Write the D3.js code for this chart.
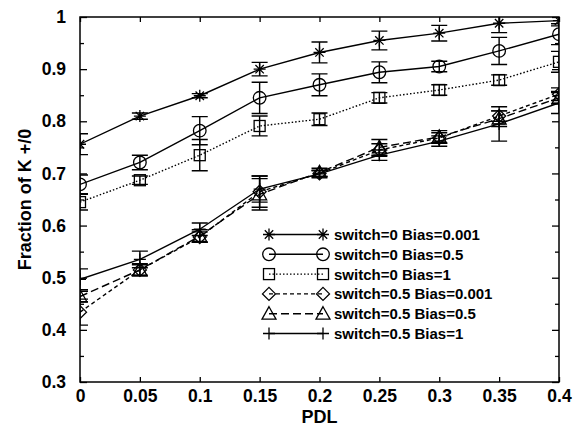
<!DOCTYPE html>
<html>
<head>
<meta charset="utf-8">
<script src="https://cdn.jsdelivr.net/npm/d3@7"></script>
<style>
  body { margin: 0; background: #fff; }
  text { font-family: "Liberation Sans", Arial, sans-serif; font-weight: bold; fill: #000; }
</style>
</head>
<body>
<svg id="chart" width="581" height="426"></svg>
<script>
const pdl = [0, 0.05, 0.1, 0.15, 0.2, 0.25, 0.3, 0.35, 0.4];
const xTicks = [0, 0.05, 0.1, 0.15, 0.2, 0.25, 0.3, 0.35, 0.4];
const yTicks = [0.3, 0.4, 0.5, 0.6, 0.7, 0.8, 0.9, 1];

const starVals = [0.756, 0.810, 0.849, 0.900, 0.932, 0.955, 0.969, 0.988, 0.993];
const starErr = [0.020, 0.006, 0.004, 0.013, 0.020, 0.018, 0.015, 0.018, 0.010];
const circleVals = [0.679, 0.721, 0.782, 0.845, 0.870, 0.894, 0.905, 0.935, 0.967];
const circleErr = [0.018, 0.014, 0.027, 0.030, 0.021, 0.020, 0.010, 0.026, 0.020];
const squareVals = [0.645, 0.687, 0.735, 0.791, 0.804, 0.845, 0.860, 0.879, 0.914];
const squareErr = [0.015, 0.008, 0.030, 0.019, 0.012, 0.010, 0.010, 0.010, 0.020];
const diamondVals = [0.434, 0.515, 0.578, 0.665, 0.700, 0.745, 0.768, 0.810, 0.852];
const diamondErr = [0.025, 0.010, 0.010, 0.030, 0.006, 0.012, 0.010, 0.010, 0.012];
const triangleVals = [0.464, 0.515, 0.580, 0.660, 0.702, 0.750, 0.770, 0.805, 0.845];
const triangleErr = [0.010, 0.012, 0.012, 0.030, 0.008, 0.015, 0.012, 0.015, 0.012];
const plusVals = [0.497, 0.535, 0.593, 0.670, 0.699, 0.735, 0.762, 0.795, 0.835];
const plusErr = [0.020, 0.016, 0.012, 0.025, 0.006, 0.010, 0.010, 0.033, 0.020];

const seriesNames = ['switch=0 Bias=0.001', 'switch=0 Bias=0.5', 'switch=0 Bias=1',
  'switch=0.5 Bias=0.001', 'switch=0.5 Bias=0.5', 'switch=0.5 Bias=1'];

const series = [
  { name: seriesNames[0], vals: starVals, err: starErr, marker: 'star', dash: null },
  { name: seriesNames[1], vals: circleVals, err: circleErr, marker: 'circle', dash: null },
  { name: seriesNames[2], vals: squareVals, err: squareErr, marker: 'square', dash: '1.5,2' },
  { name: seriesNames[3], vals: diamondVals, err: diamondErr, marker: 'diamond', dash: '4,3' },
  { name: seriesNames[4], vals: triangleVals, err: triangleErr, marker: 'triangle', dash: '8,4' },
  { name: seriesNames[5], vals: plusVals, err: plusErr, marker: 'plus', dash: null }
];

const svg = d3.select('#chart');
const margin = { left: 80, right: 22, top: 17, bottom: 44 };
const width = +svg.attr('width'), height = +svg.attr('height');
const x = d3.scaleLinear().domain([0, 0.4]).range([margin.left, width - margin.right]);
const y = d3.scaleLinear().domain([0.3, 1]).range([height - margin.bottom, margin.top]);

svg.append('clipPath').attr('id', 'clip').append('rect')
  .attr('x', x(0)).attr('y', y(1)).attr('width', x(0.4) - x(0)).attr('height', y(0.3) - y(1));

function drawMarker(g, type, cx, cy) {
  const s = 6;
  const p = g.append('g').attr('transform', `translate(${cx},${cy})`)
    .attr('fill', 'none').attr('stroke', '#000').attr('stroke-width', 1.3);
  if (type === 'star') {
    p.append('path').attr('d', `M${-s},0H${s}M0,${-s}V${s}M${-s*0.7},${-s*0.7}L${s*0.7},${s*0.7}M${-s*0.7},${s*0.7}L${s*0.7},${-s*0.7}`);
  } else if (type === 'circle') {
    p.append('circle').attr('r', 6.3);
  } else if (type === 'square') {
    p.append('rect').attr('x', -5.5).attr('y', -5.5).attr('width', 11).attr('height', 11);
  } else if (type === 'diamond') {
    p.append('path').attr('d', 'M0,-6.5L6.5,0L0,6.5L-6.5,0Z');
  } else if (type === 'triangle') {
    p.append('path').attr('d', 'M0,-7L7,5.5H-7Z');
  } else if (type === 'plus') {
    p.append('path').attr('d', `M${-s},0H${s}M0,${-s}V${s}`);
  }
}

const plot = svg.append('g').attr('clip-path', 'url(#clip)');
const line = d3.line().x((d, i) => x(pdl[i])).y(d => y(d));

series.forEach(s => {
  plot.append('path').datum(s.vals).attr('d', line)
    .attr('fill', 'none').attr('stroke', '#000').attr('stroke-width', 1.4)
    .attr('stroke-dasharray', s.dash);
  s.vals.forEach((v, i) => {
    const cx = x(pdl[i]);
    const top = y(v + s.err[i]), bot = y(v - s.err[i]);
    plot.append('path')
      .attr('d', `M${cx},${top}V${bot}M${cx - 8},${top}H${cx + 8}M${cx - 8},${bot}H${cx + 8}`)
      .attr('stroke', '#000').attr('stroke-width', 1.4).attr('fill', 'none');
    drawMarker(plot, s.marker, cx, y(v));
  });
});

// frame
svg.append('rect').attr('x', x(0)).attr('y', y(1)).attr('width', x(0.4) - x(0)).attr('height', y(0.3) - y(1))
  .attr('fill', 'none').attr('stroke', '#000').attr('stroke-width', 1.5);

// axes with inward ticks
const fmt = d => d3.format('')(+d.toFixed(2));
svg.append('g').attr('transform', `translate(0,${y(0.3)})`)
  .call(d3.axisBottom(x).tickValues(xTicks).tickSizeInner(-5).tickSizeOuter(0).tickPadding(8).tickFormat(fmt));
svg.append('g').attr('transform', `translate(0,${y(1)})`)
  .call(d3.axisTop(x).tickValues(xTicks).tickSizeInner(-5).tickSizeOuter(0).tickFormat(''));
const yMinor = d3.range(0.35, 1, 0.1);
svg.append('g').attr('transform', `translate(${x(0)},0)`)
  .call(d3.axisLeft(y).tickValues(yTicks).tickSizeInner(-7).tickSizeOuter(0).tickPadding(14).tickFormat(fmt));
svg.append('g').attr('transform', `translate(${x(0)},0)`)
  .call(d3.axisLeft(y).tickValues(yMinor).tickSizeInner(-4).tickSizeOuter(0).tickFormat(''));
svg.append('g').attr('transform', `translate(${x(0.4)},0)`)
  .call(d3.axisRight(y).tickValues(yTicks).tickSizeInner(-7).tickSizeOuter(0).tickFormat(''));
svg.append('g').attr('transform', `translate(${x(0.4)},0)`)
  .call(d3.axisRight(y).tickValues(yMinor).tickSizeInner(-4).tickSizeOuter(0).tickFormat(''));
svg.selectAll('.domain').remove();
svg.selectAll('.tick line').attr('stroke', '#000').attr('stroke-width', 1.3);
svg.selectAll('.tick text').attr('font-size', 17.5).attr('font-family', '"Liberation Sans", Arial, sans-serif').attr('font-weight', 'bold');

// axis labels
svg.append('text').attr('x', (x(0) + x(0.4)) / 2).attr('y', 423).attr('text-anchor', 'middle')
  .attr('font-size', 18).text('PDL');
svg.append('text').attr('transform', `translate(31,${(y(0.3) + y(1)) / 2}) rotate(-90)`)
  .attr('text-anchor', 'middle').attr('font-size', 18).text('Fraction of K +/0');

// legend
const leg = svg.append('g');
series.forEach((s, i) => {
  const ly = 234.5 + i * 19.8;
  leg.append('line').attr('x1', 269).attr('x2', 323).attr('y1', ly).attr('y2', ly)
    .attr('stroke', '#000').attr('stroke-width', 1.4).attr('stroke-dasharray', s.dash);
  drawMarker(leg, s.marker, 269, ly);
  drawMarker(leg, s.marker, 323, ly);
  leg.append('text').attr('x', 334).attr('y', ly).attr('dy', '0.36em')
    .attr('font-size', 15).text(s.name);
});
</script>
</body>
</html>
